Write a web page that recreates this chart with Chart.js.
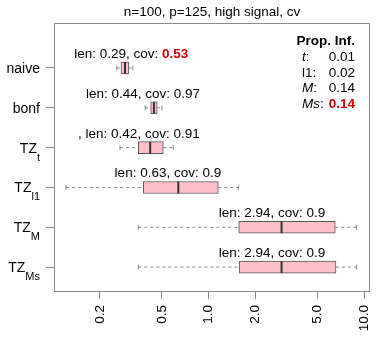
<!DOCTYPE html>
<html>
<head>
<meta charset="utf-8">
<script src="https://cdn.jsdelivr.net/npm/chart.js@4.4.1/dist/chart.umd.min.js"></script>
<style>
  html, body { margin: 0; padding: 0; background: #fff; }
  #wrap { width: 388px; height: 347px; }
</style>
</head>
<body>
<div id="wrap"><canvas id="plot" width="388" height="347"></canvas></div>
<script>
// rows, top to bottom (TZ rows carry a subscript)
const methods = ['naive', 'bonf', 'TZ', 'TZ', 'TZ', 'TZ'];
const methodSubs = ['', '', 't', 'l1', 'M', 'Ms'];

// interval length summaries
const whiskerLo = [0.257, 0.391, 0.269, 0.121, 0.353, 0.353];
const boxLo     = [0.273, 0.424, 0.353, 0.380, 1.56, 1.57];
const medians   = [0.290, 0.445, 0.421, 0.638, 2.94, 2.94];
const boxHi     = [0.307, 0.467, 0.511, 1.153, 6.51, 6.58];
const whiskerHi = [0.326, 0.501, 0.592, 1.55, 8.93, 8.93];

// text above each box
const lens = [0.29, 0.44, 0.42, 0.63, 2.94, 2.94];
const covs = [0.53, 0.97, 0.91, 0.9, 0.9, 0.9];
const covRed = [true, false, false, false, false, false];
const textPrefix = ['', '', ', ', '', '', ''];
const textAt = [0.318, 0.378, 0.356, 0.547, 2.55, 2.55];

// proportion of infinite intervals
const propLabels = ['t', 'l1', 'M', 'Ms'];
const propItalic = [true, false, true, true];
const propValues = [0.01, 0.02, 0.14, 0.14];
const propRed = [false, false, false, true];

const tickValues = [0.2, 0.5, 1, 2, 5, 10];

const FAMILY = "'Liberation Sans', Arial, Helvetica, sans-serif";
const RED = '#CC0000';
Chart.defaults.font.family = FAMILY;
Chart.defaults.color = '#000';

const rowsY = methods.map((m, i) => i + 1);

const whiskerPts = [];
const capPts = [];
methods.forEach((m, i) => {
  whiskerPts.push({x: whiskerLo[i], y: rowsY[i]}, {x: boxLo[i], y: rowsY[i]}, {x: null, y: null});
  whiskerPts.push({x: boxHi[i], y: rowsY[i]}, {x: whiskerHi[i], y: rowsY[i]}, {x: null, y: null});
  capPts.push({x: whiskerLo[i], y: rowsY[i]}, {x: whiskerHi[i], y: rowsY[i]});
});

const extras = {
  id: 'extras',
  afterDraw(chart) {
    const ctx = chart.ctx;
    const xs = chart.scales.x, ys = chart.scales.y;
    const area = chart.chartArea;
    ctx.save();

    // plot frame
    ctx.strokeStyle = '#888';
    ctx.lineWidth = 1;
    ctx.strokeRect(Math.round(area.left) + 0.5, Math.round(area.top) + 0.5,
      Math.round(area.right - area.left) - 1, Math.round(area.bottom - area.top));

    // row labels with subscripts
    ctx.fillStyle = '#000';
    ctx.textBaseline = 'alphabetic';
    ctx.textAlign = 'left';
    methods.forEach((m, i) => {
      const yy = ys.getPixelForValue(rowsY[i]);
      const right = area.left - 14;
      ctx.font = '14px ' + FAMILY;
      const w1 = ctx.measureText(m).width;
      let w2 = 0;
      if (methodSubs[i]) {
        ctx.font = '11px ' + FAMILY;
        w2 = ctx.measureText(methodSubs[i]).width;
      }
      const left = right - w1 - w2;
      ctx.font = '14px ' + FAMILY;
      ctx.fillText(m, left, yy + 5);
      if (methodSubs[i]) {
        ctx.font = '11px ' + FAMILY;
        ctx.fillText(methodSubs[i], left + w1, yy + 13);
      }
    });

    // len / cov annotations
    methods.forEach((m, i) => {
      const a = textPrefix[i] + 'len: ' + lens[i] + ', cov: ';
      const b = String(covs[i]);
      const fa = '13.5px ' + FAMILY;
      const fb = (covRed[i] ? 'bold ' : '') + '13.5px ' + FAMILY;
      ctx.font = fa;
      const wa = ctx.measureText(a).width;
      ctx.font = fb;
      const wb = ctx.measureText(b).width;
      const cx = xs.getPixelForValue(textAt[i]);
      const by = ys.getPixelForValue(rowsY[i]) - 10;
      const left = cx - (wa + wb) / 2;
      ctx.font = fa;
      ctx.fillStyle = '#000';
      ctx.fillText(a, left, by);
      ctx.font = fb;
      ctx.fillStyle = covRed[i] ? RED : '#000';
      ctx.fillText(b, left + wa, by);
    });

    // Prop. Inf. box
    const valRight = area.right - 15;
    const labLeft = area.right - 68;
    ctx.textAlign = 'right';
    ctx.fillStyle = '#000';
    ctx.font = 'bold 13.5px ' + FAMILY;
    ctx.fillText('Prop. Inf.', valRight, area.top + 22);
    propLabels.forEach((lab, k) => {
      const by = area.top + 38 + k * 15.5;
      ctx.textAlign = 'left';
      ctx.fillStyle = '#000';
      ctx.font = (propItalic[k] ? 'italic ' : '') + '13.5px ' + FAMILY;
      ctx.fillText(lab, labLeft, by);
      const wl = ctx.measureText(lab).width;
      ctx.font = '13.5px ' + FAMILY;
      ctx.fillText(':', labLeft + wl, by);
      ctx.textAlign = 'right';
      ctx.font = (propRed[k] ? 'bold ' : '') + '13.5px ' + FAMILY;
      ctx.fillStyle = propRed[k] ? RED : '#000';
      ctx.fillText(propValues[k].toFixed(2), valRight, by);
    });
    ctx.restore();
  }
};

new Chart(document.getElementById('plot'), {
  type: 'bar',
  data: {
    datasets: [
      {
        type: 'scatter',
        data: whiskerPts,
        showLine: true,
        borderColor: '#888',
        borderWidth: 1,
        borderDash: [3, 3],
        pointRadius: 0,
        order: 3
      },
      {
        type: 'scatter',
        data: capPts,
        pointStyle: 'line',
        rotation: 90,
        pointRadius: 2.5,
        borderColor: '#888',
        borderWidth: 1,
        order: 3
      },
      {
        type: 'bar',
        indexAxis: 'y',
        data: methods.map((m, i) => ({y: rowsY[i], x: [boxLo[i], boxHi[i]]})),
        backgroundColor: '#FFC0CB',
        borderColor: '#555',
        borderWidth: 1,
        borderSkipped: false,
        barThickness: 12,
        order: 2
      },
      {
        type: 'scatter',
        data: methods.map((m, i) => ({x: medians[i], y: rowsY[i]})),
        pointStyle: 'line',
        rotation: 90,
        pointRadius: 6,
        borderColor: '#333',
        borderWidth: 2,
        order: 1
      }
    ]
  },
  options: {
    responsive: false,
    animation: false,
    devicePixelRatio: 1,
    layout: { padding: { left: 0, right: 18, top: 0, bottom: 0 } },
    plugins: {
      legend: { display: false },
      tooltip: { enabled: false },
      title: {
        display: true,
        fullSize: false,
        text: 'n=100, p=125, high signal, cv',
        color: '#000',
        font: { size: 13.5, weight: 'normal' },
        padding: { top: 4, bottom: 2.8 }
      }
    },
    scales: {
      x: {
        type: 'logarithmic',
        position: 'bottom',
        offset: false,
        min: 0.1014,
        max: 10.88,
        afterBuildTicks: s => { s.ticks = tickValues.map(v => ({ value: v })); },
        afterFit: s => { s.height = 56; },
        grid: { drawOnChartArea: false, offset: false, tickLength: 8, color: '#888' },
        border: { display: false },
        ticks: {
          autoSkip: false,
          minRotation: 90,
          maxRotation: 90,
          padding: 6,
          color: '#000',
          font: { size: 13.5 },
          callback: v => Number(v).toFixed(1)
        }
      },
      y: {
        type: 'linear',
        position: 'left',
        reverse: true,
        offset: false,
        min: -0.13,
        max: 6.6,
        afterBuildTicks: s => { s.ticks = rowsY.map(v => ({ value: v })); },
        afterFit: s => { s.width = 54; },
        grid: { drawOnChartArea: false, offset: false, tickLength: 8, color: '#888' },
        border: { display: false },
        ticks: { display: false }
      }
    }
  },
  plugins: [extras]
});
</script>
</body>
</html>
